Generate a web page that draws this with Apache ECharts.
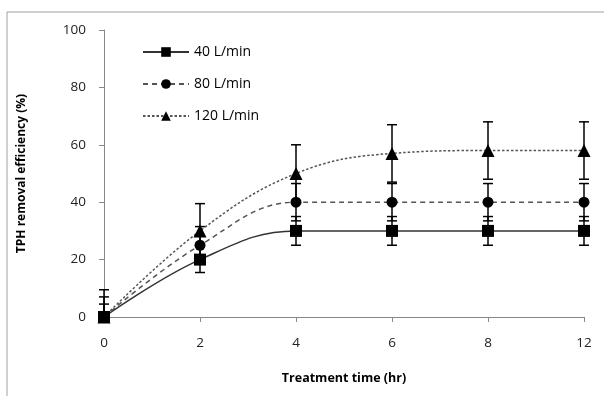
<!DOCTYPE html>
<html><head><meta charset="utf-8">
<script src="https://cdn.jsdelivr.net/npm/echarts@6/dist/echarts.min.js"></script>
<style>html,body{margin:0;padding:0;background:#fff}#c{width:604px;height:396px}</style>
</head><body><div id="c"></div>
<script>
const categories = ['0','2','4','6','8','12'];
const names = ['40 L/min','80 L/min','120 L/min'];
const s40 = [0,20,30,30,30,30];
const e40 = [4.5,4.5,5,5,5,5];
const s80 = [0,25,40,40,40,40];
const e80 = [7,6.5,6.5,6.5,6.5,6.5];
const s120 = [0,30,50,57,58,58];
const e120 = [9.5,9.5,10,10,10,10];
const yTicks = [0,20,40,60,80,100];

const font = 'Open Sans, Liberation Sans, sans-serif';
function errData(vals, errs){ return vals.map((v,i)=>[i, v, errs[i]]); }
function errSeries(vals, errs){
  return {
    type:'custom', z:1, silent:true,
    data: errData(vals, errs),
    renderItem: function(params, api){
      const i = api.value(0), v = api.value(1), e = api.value(2);
      const lo = Math.max(0, v - e), hi = v + e;
      const pTop = api.coord([i, hi]);
      const pBot = api.coord([i, lo]);
      const w = 5;
      const st = {stroke:'#000', lineWidth:1.5};
      const ch = [
        {type:'line', shape:{x1:pTop[0], y1:pTop[1], x2:pBot[0], y2:pBot[1]}, style:st},
        {type:'line', shape:{x1:pTop[0]-w, y1:pTop[1], x2:pTop[0]+w, y2:pTop[1]}, style:st}
      ];
      if (v - e >= 0) ch.push({type:'line', shape:{x1:pBot[0]-w, y1:pBot[1], x2:pBot[0]+w, y2:pBot[1]}, style:st});
      return {type:'group', children:ch};
    }
  };
}
const chart = echarts.init(document.getElementById('c'), null, {renderer:'canvas'});
chart.setOption({
  animation:false,
  backgroundColor:'#fff',
  graphic:[{type:'rect', shape:{x:7, y:12, width:620, height:420}, style:{fill:'none', stroke:'#a0a0a0', lineWidth:1}, z:-1}],
  grid:{left:104, right:20, top:30, bottom:79},
  legend:{
    orient:'vertical', left:137, top:40, itemWidth:46, itemHeight:12, itemGap:18,
    textStyle:{fontFamily:font, fontSize:14, color:'#000'},
    data:names
  },
  xAxis:{
    type:'category', data:categories, boundaryGap:false,
    axisLine:{lineStyle:{color:'#888', width:1}},
    axisTick:{alignWithLabel:true, length:5, lineStyle:{color:'#888'}},
    axisLabel:{margin:19, fontFamily:font, fontSize:13.5, color:'#222'},
    name:'Treatment time (hr)', nameLocation:'middle', nameGap:55,
    nameTextStyle:{fontFamily:font, fontSize:12.5, fontWeight:'bold', color:'#000'}
  },
  yAxis:{
    type:'value', min:0, max:100, interval:20,
    axisLine:{show:true, lineStyle:{color:'#888', width:1}},
    axisTick:{show:true, length:5, lineStyle:{color:'#888'}},
    splitLine:{show:false},
    axisLabel:{margin:18, fontFamily:font, fontSize:13.5, color:'#222', formatter:v=>yTicks.includes(v)?String(v):''},
    name:'TPH removal efficiency (%)', nameLocation:'middle', nameGap:76, nameRotate:90,
    nameTextStyle:{fontFamily:font, fontSize:12, fontWeight:'bold', color:'#000'}
  },
  series:[
    errSeries(s120, e120), errSeries(s80, e80), errSeries(s40, e40),
    {name:names[0], type:'line', data:s40, smooth:0.4, z:3, symbol:'rect', symbolSize:12,
      itemStyle:{color:'#000'}, lineStyle:{color:'#333', width:1.5, type:'solid'}},
    {name:names[1], type:'line', data:s80, smooth:0.4, z:3, symbol:'circle', symbolSize:11,
      itemStyle:{color:'#000'}, lineStyle:{color:'#555', width:1.5, type:[5,4]}},
    {name:names[2], type:'line', data:s120, smooth:0.4, z:3, symbol:'triangle', symbolSize:13,
      itemStyle:{color:'#000'}, lineStyle:{color:'#555', width:1.5, type:[2.5,2]}}
  ]
});
</script></body></html>
